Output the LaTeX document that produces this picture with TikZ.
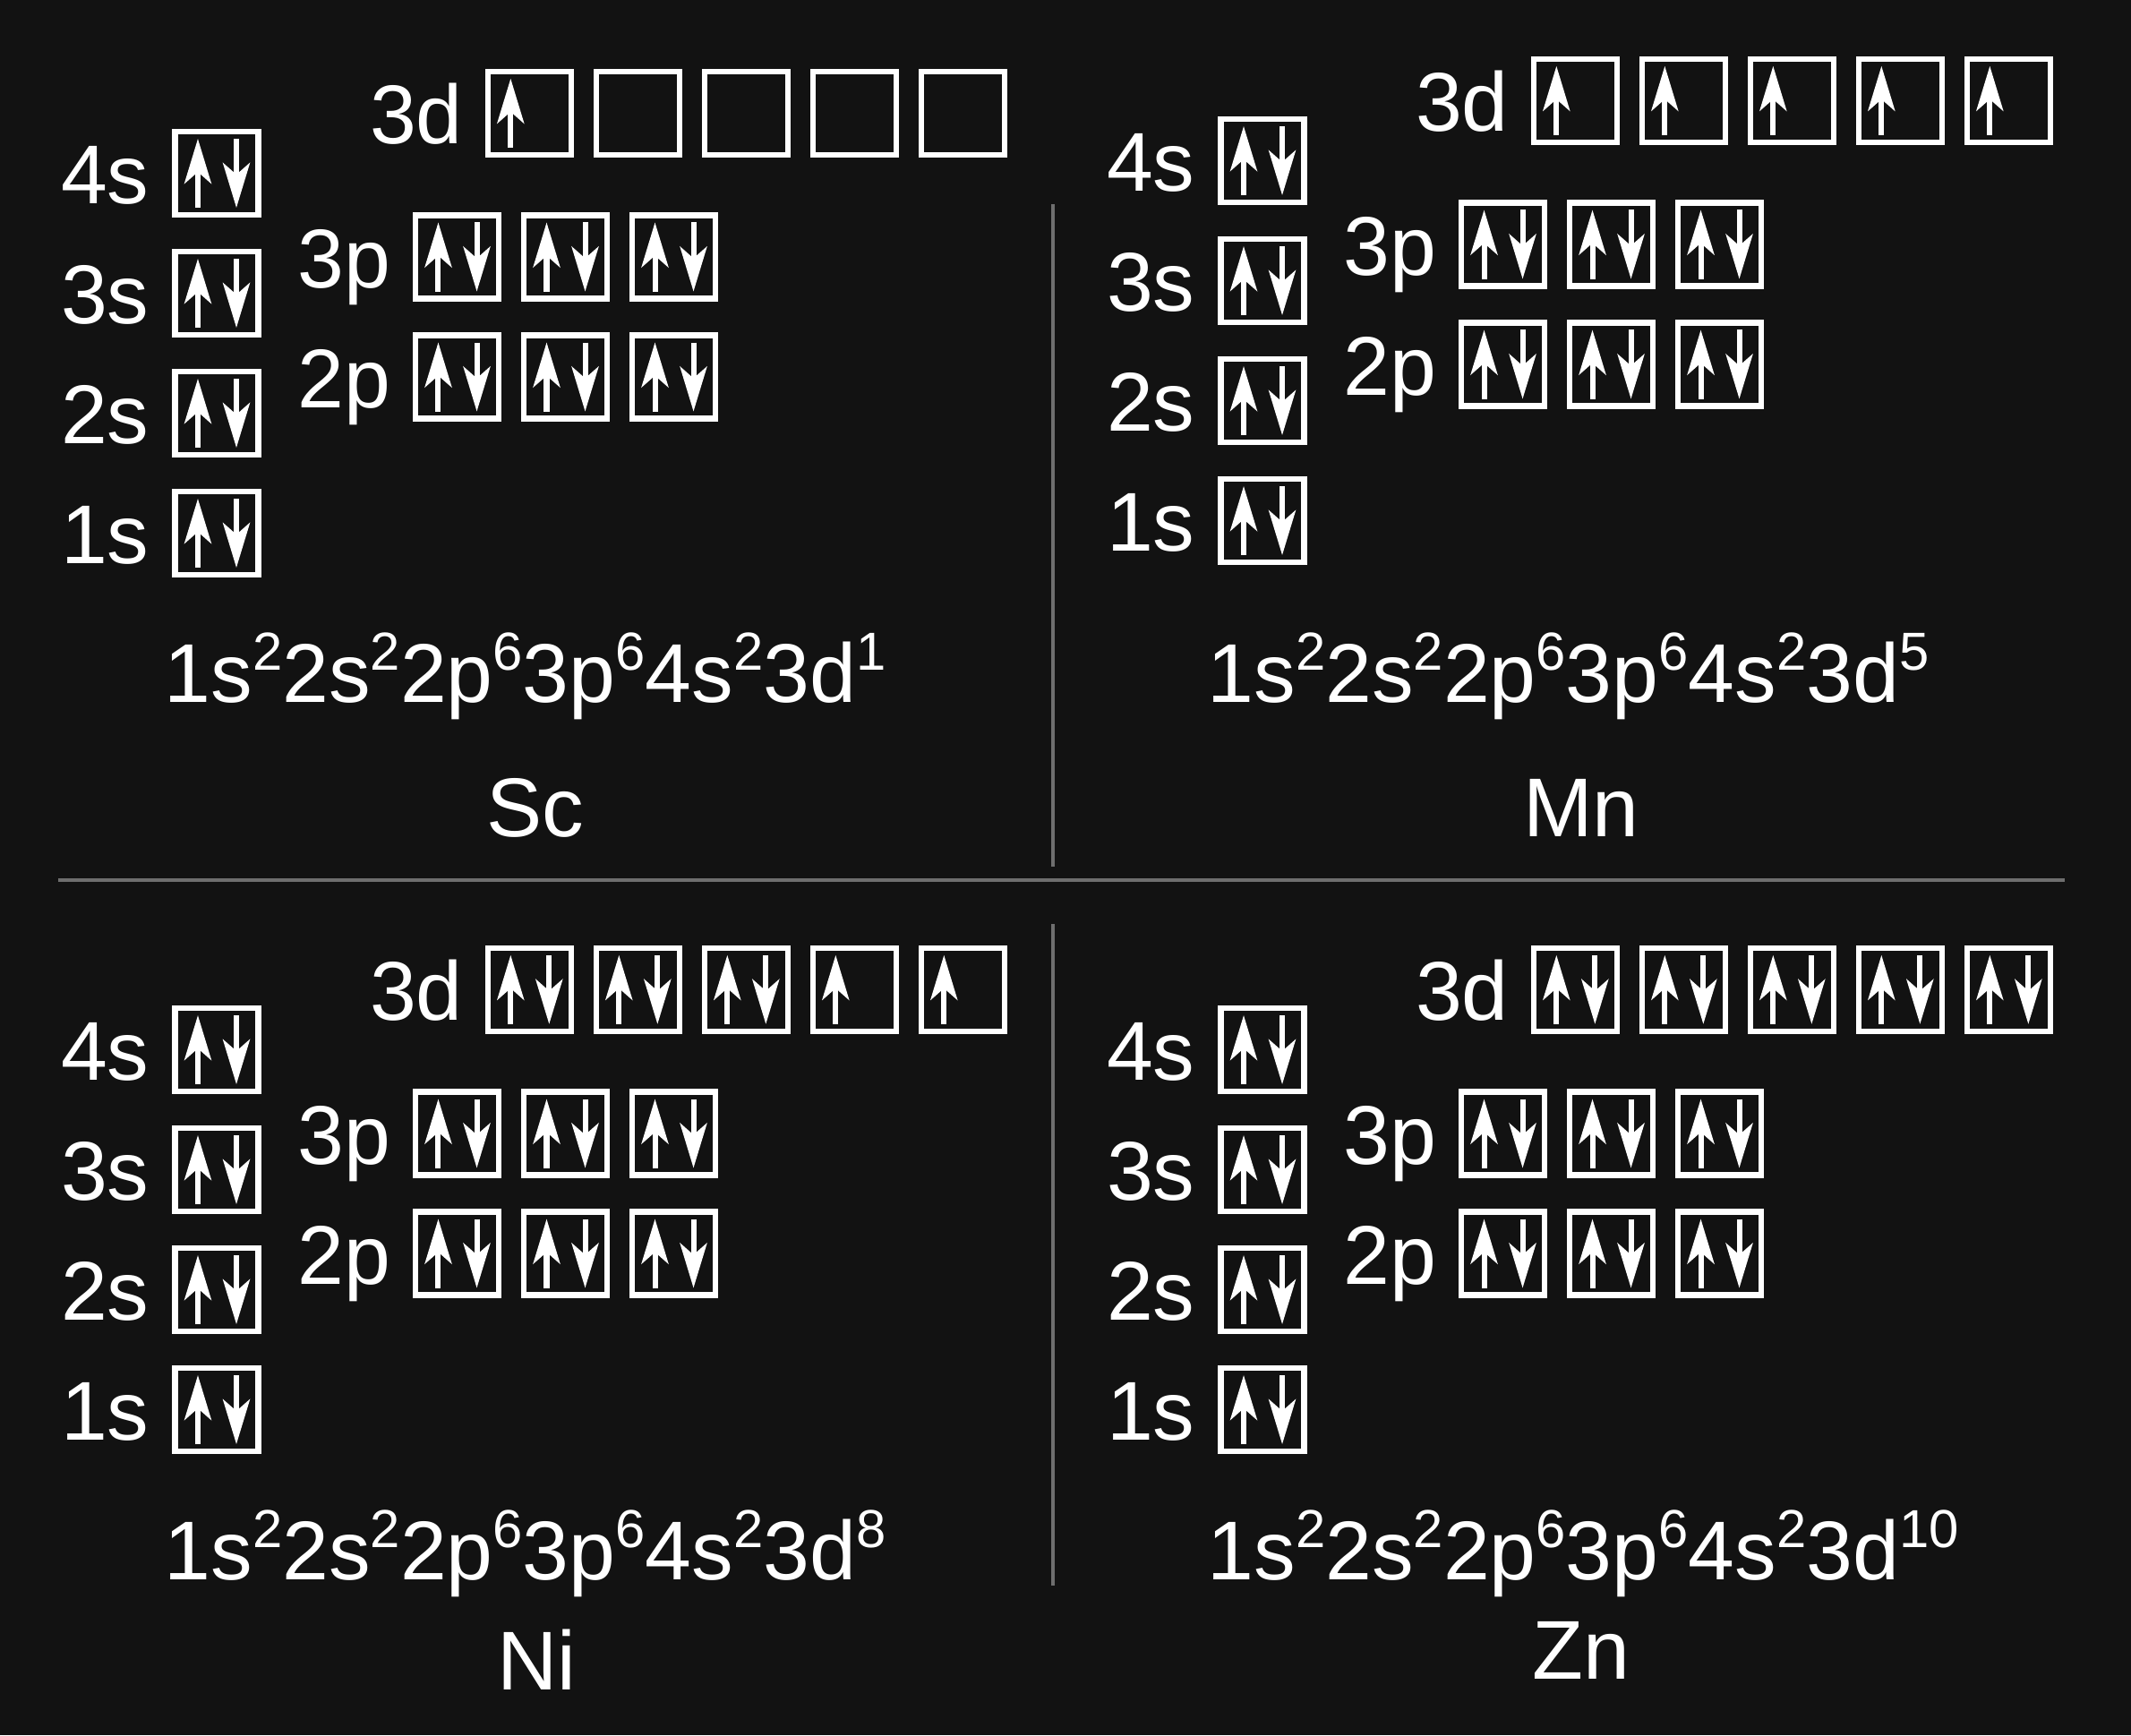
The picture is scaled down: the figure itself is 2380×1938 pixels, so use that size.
\documentclass[tikz,border=0pt]{standalone}
\usepackage{fontspec}
\setmainfont{Liberation Sans}
\usetikzlibrary{arrows.meta}
\definecolor{bgdark}{RGB}{18,18,18}
\definecolor{rulegray}{RGB}{110,110,110}
\newcommand{\occ}[1]{\raisebox{0.36cm}{\fontsize{17pt}{17pt}\selectfont #1}}
\tikzset{
  spin/.style={draw=white, line width=0.06cm, -{Stealth[length=0.5cm, width=0.3cm, inset=0.13cm]}},
  orb/.style={draw=white, line width=0.065cm, minimum size=0.93cm, inner sep=0pt},
  up/.style={orb, path picture={
      \draw[spin] ([shift={(-0.21cm,-0.385cm)}]path picture bounding box.center) -- ++(0cm,0.77cm);}},
  pair/.style={orb, path picture={
      \draw[spin] ([shift={(-0.21cm,-0.385cm)}]path picture bounding box.center) -- ++(0cm,0.77cm);
      \draw[spin] ([shift={(0.22cm,0.385cm)}]path picture bounding box.center) -- ++(0cm,-0.77cm);}},
  lbl/.style={text=white, inner sep=0pt, font=\fontsize{26.5pt}{30pt}\selectfont},
  sep/.style={draw=rulegray, line width=0.035cm}
}
\begin{document}
\begin{tikzpicture}[x=0.01cm, y=-0.01cm]
    \fill[bgdark] (0, 0) rectangle (2380, 1938);
    % orbital boxes, one quadrant per element
    \foreach \el/\ox/\oy/\dlist in {Sc/0/0/{up,orb,orb,orb,orb}, Mn/1168/-14/{up,up,up,up,up},
                                    Ni/0/979/{pair,pair,pair,up,up}, Zn/1168/979/{pair,pair,pair,pair,pair}} {
      \begin{scope}[shift={(\ox, \oy)}]
        \foreach \n/\y in {4/193.5, 3/327.5, 2/461.5, 1/595.5} {
          \node[pair] (\el-s\n) at (242, \y) {};
          \node[lbl, anchor=base east] (\el-s\n-l) at ([xshift=-0.25cm, yshift=-0.34cm]\el-s\n.west) {\n s};
        }
        \foreach \n/\y in {3/287, 2/421} {
          \foreach \i in {1, 2, 3}
            \node[pair] (\el-p\n\i) at ({510.5 + 121*(\i - 1)}, \y) {};
          \node[lbl, anchor=base east] (\el-p\n-l) at ([xshift=-0.24cm, yshift=-0.34cm]\el-p\n1.west) {\n p};
        }
        \foreach \st [count=\i] in \dlist
          \node[\st] (\el-d\i) at ({591.3 + 121*(\i - 1)}, 126.3) {};
        \node[lbl, anchor=base east] (\el-d-l) at ([xshift=-0.24cm, yshift=-0.34cm]\el-d1.west) {3d};
      \end{scope}
    }
    % configurations and symbols
    \node[lbl, anchor=base west] (Sc-cfg) at (183, 784) {1s\occ{2}2s\occ{2}2p\occ{6}3p\occ{6}4s\occ{2}3d\occ{1}};
    \node[lbl, anchor=base west] (Mn-cfg) at (1348, 784) {1s\occ{2}2s\occ{2}2p\occ{6}3p\occ{6}4s\occ{2}3d\occ{5}};
    \node[lbl, anchor=base west] (Ni-cfg) at (183, 1764) {1s\occ{2}2s\occ{2}2p\occ{6}3p\occ{6}4s\occ{2}3d\occ{8}};
    \node[lbl, anchor=base west] (Zn-cfg) at (1348, 1764) {1s\occ{2}2s\occ{2}2p\occ{6}3p\occ{6}4s\occ{2}3d\occ{10}};
    \node[lbl, anchor=base] (Sc-name) at (598, 934) {Sc};
    \node[lbl, anchor=base] (Mn-name) at (1766, 934) {Mn};
    \node[lbl, anchor=base] (Ni-name) at (599, 1887) {Ni};
    \node[lbl, anchor=base] (Zn-name) at (1766, 1875) {Zn};
    % dividers
    \draw[sep] (1176, 228) to (1176, 968);
    \draw[sep] (1176, 1032) to (1176, 1771);
    \draw[sep] (65, 983) to (2306, 983);
\end{tikzpicture}
\end{document}
